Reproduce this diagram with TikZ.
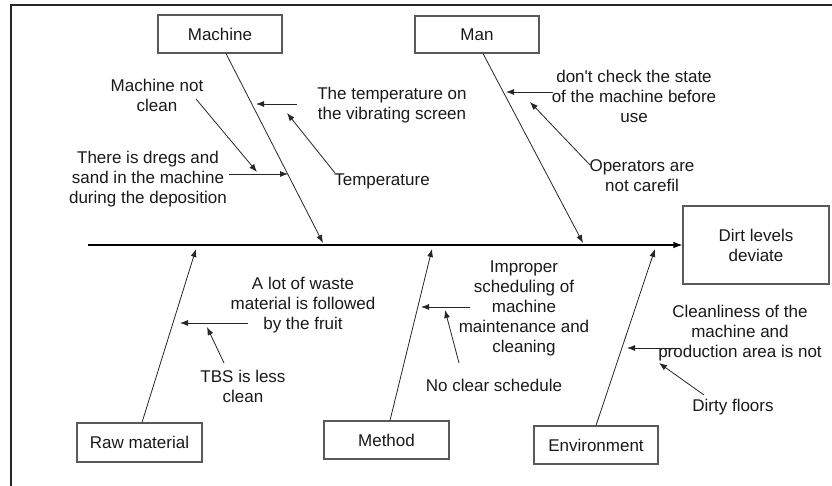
\documentclass[tikz,border=0pt]{standalone}
\usepackage{fontspec}
\setmainfont{Liberation Sans}
\usetikzlibrary{arrows.meta}
\begin{document}
\begin{tikzpicture}[x=1pt,y=-1pt,
  txt/.style={font=\fontsize{17}{20}\selectfont, text=black!90},
  box/.style={txt, draw=black!65, line width=1.1pt, inner sep=0pt},
  lbl/.style={txt, align=center, inner sep=0pt},
  arr/.style={-{Latex[length=8pt,width=6pt]}, line width=0.8pt, draw=black!85},
  spine/.style={-{Latex[length=9pt,width=6.5pt]}, line width=1.1pt, draw=black},
]
\useasboundingbox (0,0) rectangle (832,486);
% frame
\draw[line width=2pt, black!85] (11,486) -- (11,5.5) -- (832,5.5);

% category boxes
\node[box, minimum width=124pt, minimum height=38pt] (machine) at (220,34) {Machine};
\node[box, minimum width=124pt, minimum height=37pt] (man) at (477,34.5) {Man};
\node[box, minimum width=146pt, minimum height=78pt, align=center] (dirt) at (756,245) {Dirt levels\\deviate};
\node[box, minimum width=125pt, minimum height=39pt] (raw) at (139.5,442.5) {Raw material};
\node[box, minimum width=125pt, minimum height=38pt] (method) at (386.5,440) {Method};
\node[box, minimum width=124pt, minimum height=38pt] (env) at (596,445) {Environment};

% spine
\coordinate (sp) at (88,245);
\draw[spine] (sp) -- (dirt.west);

% rib end points
\coordinate (mE) at (323,243);
\coordinate (nE) at (583,243);
\coordinate (rE) at (196,249);
\coordinate (tE) at (432,249);
\coordinate (eE) at (655,249);
\draw[arr] ([xshift=6pt]machine.south) -- (mE);
\draw[arr] ([xshift=6pt]man.south) -- (nE);
\draw[arr] ([xshift=2.5pt]raw.north) -- (rE);
\draw[arr] ([xshift=3.5pt]method.north) -- (tE);
\draw[arr] (env.north) -- (eE);

% labels
\node[lbl] (mnc) at (157,95) {Machine not\\clean};
\node[lbl] (dregs) at (148,179) {There is dregs and\\sand in the machine\\during the deposition};
\node[lbl] (tvs) at (392,105) {The temperature on\\the vibrating screen};
\node[lbl] (temp) at (382,181) {Temperature};
\node[lbl] (dcs) at (634,96) {don\textquotesingle t check the state\\of the machine before\\use};
\node[lbl] (opc) at (642,176) {Operators are\\not carefil};
\node[lbl] (waste) at (303,305) {A lot of waste\\material is followed\\by the fruit};
\node[lbl] (tbs) at (243,386) {TBS is less\\clean};
\node[lbl] (imp) at (524,308) {Improper\\scheduling of\\machine\\maintenance and\\cleaning};
\node[lbl] (ncs) at (494,385) {No clear schedule};
\node[lbl] (cln) at (740,333) {Cleanliness of the\\machine and\\production area is not};
\node[lbl] (dfl) at (733,407) {Dirty floors};

% sub-cause arrows
\coordinate (a1s) at (196,99);   \coordinate (a1e) at (257,172);
\coordinate (a2s) at (229,174);  \coordinate (a2e) at (288,174);
\coordinate (a3s) at (297,104);  \coordinate (a3e) at (256,104);
\coordinate (a4s) at (335,173);  \coordinate (a4e) at (287,113);
\coordinate (a5s) at (553,92);   \coordinate (a5e) at (506,92);
\coordinate (a6s) at (590,165);  \coordinate (a6e) at (530,102);
\coordinate (a7s) at (248,323);  \coordinate (a7e) at (180,323);
\coordinate (a8s) at (224,363);  \coordinate (a8e) at (207,327);
\coordinate (a9s) at (470,307);  \coordinate (a9e) at (421,307);
\coordinate (a10s) at (459,363); \coordinate (a10e) at (445,310);
\coordinate (a11s) at (680,348); \coordinate (a11e) at (627,348);
\coordinate (a12s) at (704,395); \coordinate (a12e) at (659,363);
\draw[arr] (a1s) -- (a1e);
\draw[arr] (a2s) -- (a2e);
\draw[arr] (a3s) -- (a3e);
\draw[arr] (a4s) -- (a4e);
\draw[arr] (a5s) -- (a5e);
\draw[arr] (a6s) -- (a6e);
\draw[arr] (a7s) -- (a7e);
\draw[arr] (a8s) -- (a8e);
\draw[arr] (a9s) -- (a9e);
\draw[arr] (a10s) -- (a10e);
\draw[arr] (a11s) -- (a11e);
\draw[arr] (a12s) -- (a12e);
\end{tikzpicture}
\end{document}
